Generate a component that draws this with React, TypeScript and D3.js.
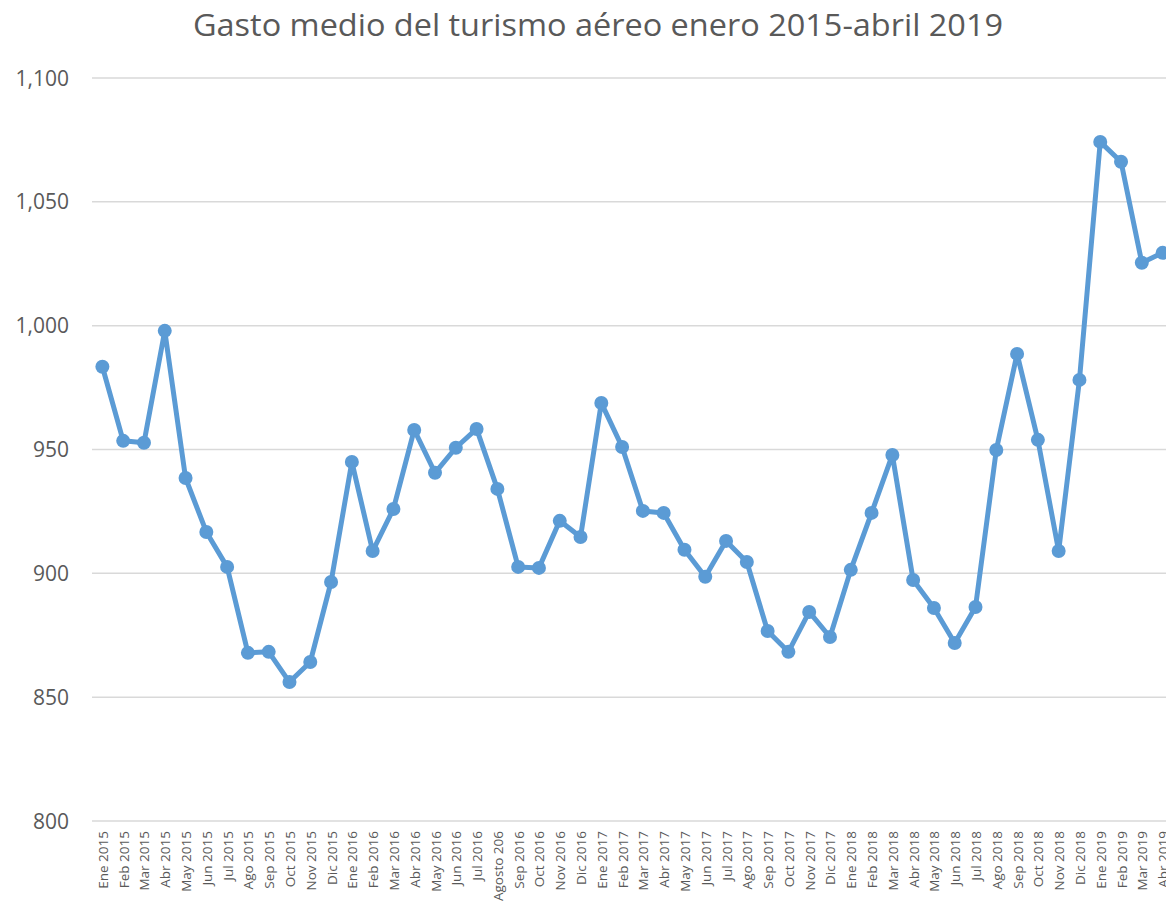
import React, { useEffect, useRef } from "react";
import * as d3 from "d3";

const months = [
  "Ene 2015", "Feb 2015", "Mar 2015", "Abr 2015", "May 2015", "Jun 2015",
  "Jul 2015", "Ago 2015", "Sep 2015", "Oct 2015", "Nov 2015", "Dic 2015",
  "Ene 2016", "Feb 2016", "Mar 2016", "Abr 2016", "May 2016", "Jun 2016",
  "Jul 2016", "Agosto 206", "Sep 2016", "Oct 2016", "Nov 2016", "Dic 2016",
  "Ene 2017", "Feb 2017", "Mar 2017", "Abr 2017", "May 2017", "Jun 2017",
  "Jul 2017", "Ago 2017", "Sep 2017", "Oct 2017", "Nov 2017", "Dic 2017",
  "Ene 2018", "Feb 2018", "Mar 2018", "Abr 2018", "May 2018", "Jun 2018",
  "Jul 2018", "Ago 2018", "Sep 2018", "Oct 2018", "Nov 2018", "Dic 2018",
  "Ene 2019", "Feb 2019", "Mar 2019", "Abr 2019",
];

const gasto = [
  983.4, 953.5, 952.7, 997.9, 938.5, 916.7, 902.6, 867.9, 868.3, 856.1, 864.2, 896.5,
  945.0, 909.0, 926.0, 957.9, 940.6, 950.7, 958.3, 934.1, 902.6, 902.2, 921.2, 914.7,
  968.8, 951.0, 925.2, 924.4, 909.5, 898.6, 913.1, 904.6, 876.7, 868.3, 884.4, 874.3,
  901.4, 924.4, 947.8, 897.3, 886.0, 871.9, 886.4, 949.8, 988.6, 953.9, 909.0, 978.1,
  1074.2, 1066.2, 1025.4, 1029.4,
];

const yTicks = [800, 850, 900, 950, 1000, 1050, 1100];

const W = 1166;
const H = 903;
const margin = { top: 78, right: -7, bottom: 82, left: 92 };

const LineChart = () => {
  const ref = useRef(null);

  useEffect(() => {
    const svg = d3.select(ref.current);
    svg.selectAll("*").remove();

    const x = d3
      .scaleBand()
      .domain(months)
      .range([margin.left, W - margin.right]);
    const y = d3
      .scaleLinear()
      .domain([800, 1100])
      .range([H - margin.bottom, margin.top]);
    const fmt = d3.format(",");
    const cx = (m) => x(m) + x.bandwidth() / 2;

    svg
      .append("text")
      .attr("x", 598)
      .attr("y", 36)
      .attr("text-anchor", "middle")
      .attr("textLength", 810)
      .attr("lengthAdjust", "spacingAndGlyphs")
      .style("font-family", "'Open Sans', sans-serif")
      .style("font-size", "31px")
      .style("fill", "#595959")
      .text("Gasto medio del turismo aéreo enero 2015-abril 2019");

    const grid = svg.append("g");
    grid
      .selectAll("line")
      .data(yTicks)
      .enter()
      .append("line")
      .attr("x1", margin.left)
      .attr("x2", W - margin.right)
      .attr("y1", (d) => y(d))
      .attr("y2", (d) => y(d))
      .attr("stroke", "#D9D9D9")
      .attr("stroke-width", 1.5);

    grid
      .selectAll("text")
      .data(yTicks)
      .enter()
      .append("text")
      .attr("x", 69)
      .attr("y", (d) => y(d))
      .attr("dy", "0.36em")
      .attr("text-anchor", "end")
      .style("font-family", "'Open Sans', sans-serif")
      .style("font-size", "21px")
      .style("fill", "#595959")
      .text((d) => fmt(d));

    svg
      .append("g")
      .selectAll("text")
      .data(months)
      .enter()
      .append("text")
      .attr("transform", (d) => `translate(${cx(d) + 5.5},${H - margin.bottom + 10}) rotate(-90)`)
      .attr("text-anchor", "end")
      .style("font-family", "'Open Sans', sans-serif")
      .style("font-size", "13.5px")
      .style("fill", "#595959")
      .text((d) => d);

    const line = d3
      .line()
      .x((d, i) => cx(months[i]))
      .y((d) => y(d));

    svg
      .append("path")
      .datum(gasto)
      .attr("d", line)
      .attr("fill", "none")
      .attr("stroke", "#5B9BD5")
      .attr("stroke-width", 5)
      .attr("stroke-linejoin", "round");

    svg
      .append("g")
      .selectAll("circle")
      .data(gasto)
      .enter()
      .append("circle")
      .attr("cx", (d, i) => cx(months[i]))
      .attr("cy", (d) => y(d))
      .attr("r", 7)
      .attr("fill", "#5B9BD5");
  }, []);

  return <svg ref={ref} width={W} height={H} style={{ display: "block" }} />;
};

export default function App() {
  return (
    <div style={{ position: "absolute", left: 0, top: 0, background: "#fff" }}>
      <LineChart />
    </div>
  );
}
